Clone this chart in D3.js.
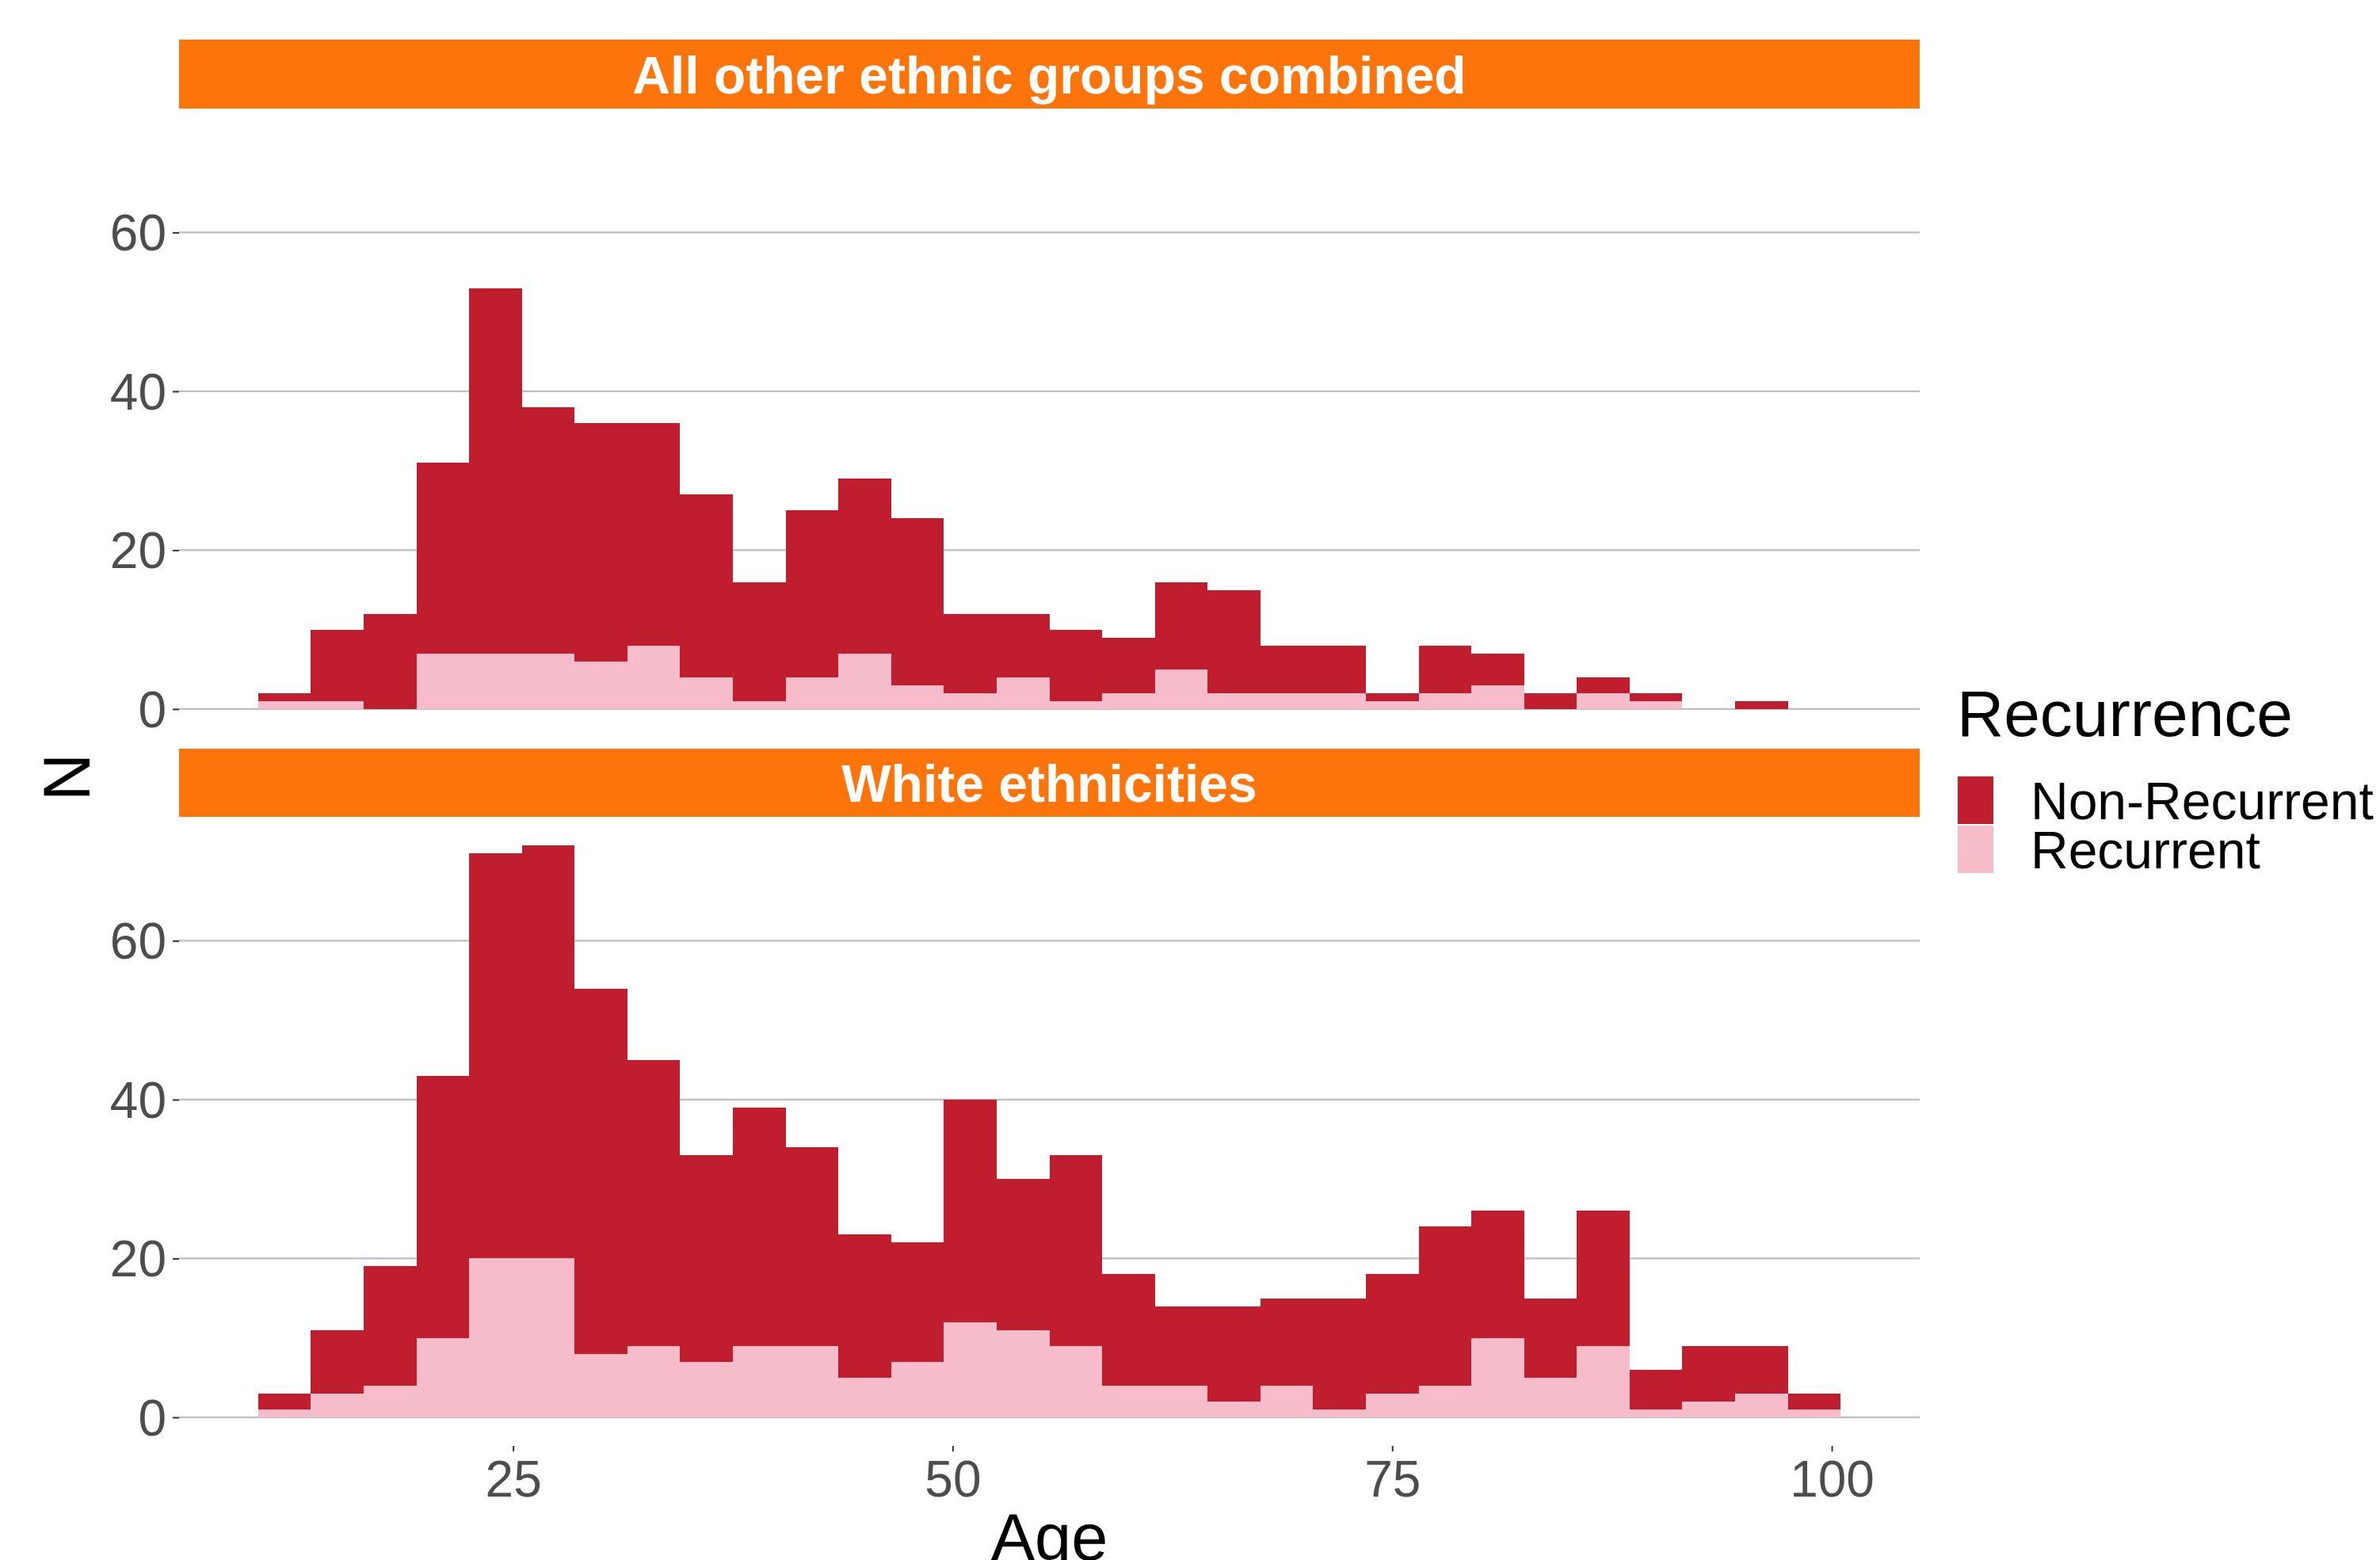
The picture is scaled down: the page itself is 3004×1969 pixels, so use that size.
<!DOCTYPE html>
<html>
<head>
<meta charset="utf-8">
<script src="https://cdn.jsdelivr.net/npm/d3@7"></script>
<style>
  html, body { margin: 0; padding: 0; background: #ffffff; }
  svg { display: block; }
  text { font-family: "Liberation Sans", Arial, sans-serif; }
</style>
</head>
<body>
<script>
// Age histogram, 3-year bins from 10.5 to 100.5
const binStart = 10.5;
const binWidth = 3;
const binCount = 30;

const panels = ["All other ethnic groups combined", "White ethnicities"];
const recurrenceLevels = ["Non-Recurrent", "Recurrent"];

// Counts per bin: total patients and recurrent patients
const otherTotal = [2, 10, 12, 31, 53, 38, 36, 36, 27, 16, 25, 29, 24, 12, 12, 10, 9, 16, 15, 8, 8, 2, 8, 7, 2, 4, 2, 0, 1, 0];
const otherRecurrent = [1, 1, 0, 7, 7, 7, 6, 8, 4, 1, 4, 7, 3, 2, 4, 1, 2, 5, 2, 2, 2, 1, 2, 3, 0, 2, 1, 0, 0, 0];
const whiteTotal = [3, 11, 19, 43, 71, 72, 54, 45, 33, 39, 34, 23, 22, 40, 30, 33, 18, 14, 14, 15, 15, 18, 24, 26, 15, 26, 6, 9, 9, 3];
const whiteRecurrent = [1, 3, 4, 10, 20, 20, 8, 9, 7, 9, 9, 5, 7, 12, 11, 9, 4, 4, 2, 4, 1, 3, 4, 10, 5, 9, 1, 2, 3, 1];

const xTicks = [25, 50, 75, 100];
const yTicks = [0, 20, 40, 60];

const colors = { "Non-Recurrent": "#C01E2E", "Recurrent": "#F7BCCA" };
const stripColor = "#FD740A";

const W = 3004, H = 1969;
const svg = d3.select("body").append("svg").attr("width", W).attr("height", H);

// Stack recurrent at the bottom, non-recurrent on top
function buildBins(total, rec) {
  return total.map((t, i) => {
    const x0 = binStart + i * binWidth;
    return {
      x0, x1: x0 + binWidth,
      segments: [
        { key: "Recurrent", y0: 0, y1: rec[i] },
        { key: "Non-Recurrent", y0: rec[i], y1: t }
      ]
    };
  });
}
const panelData = [buildBins(otherTotal, otherRecurrent), buildBins(whiteTotal, whiteRecurrent)];

// Shared scales with 5% expansion
const xMin = binStart, xMax = binStart + binCount * binWidth;
const xPad = (xMax - xMin) * 0.05;
const x = d3.scaleLinear().domain([xMin - xPad, xMax + xPad]).range([226, 2423]);
const yMax = d3.max([...otherTotal, ...whiteTotal]);
const yPad = yMax * 0.05;

const panelBoxes = [
  { stripTop: 50, top: 137, bottom: 931 },
  { stripTop: 945, top: 1031, bottom: 1825 }
];

panelBoxes.forEach((box, p) => {
  const y = d3.scaleLinear().domain([-yPad, yMax + yPad]).range([box.bottom, box.top]);
  const g = svg.append("g");

  // strip
  g.append("rect").attr("x", x.range()[0]).attr("y", box.stripTop)
    .attr("width", x.range()[1] - x.range()[0]).attr("height", box.top - box.stripTop)
    .attr("fill", stripColor);
  g.append("text").attr("x", (x.range()[0] + x.range()[1]) / 2)
    .attr("y", (box.stripTop + box.top) / 2 + 24)
    .attr("text-anchor", "middle").attr("fill", "#ffffff")
    .attr("font-weight", "bold").attr("font-size", 66)
    .text(panels[p]);

  // horizontal grid
  g.append("g").selectAll("line").data(yTicks).join("line")
    .attr("x1", x.range()[0]).attr("x2", x.range()[1])
    .attr("y1", d => y(d)).attr("y2", d => y(d))
    .attr("stroke", "#BEBEBE").attr("stroke-width", 2.2);

  // bars
  g.append("g").selectAll("g").data(panelData[p]).join("g")
    .selectAll("rect").data(d => d.segments.map(s => ({ ...s, x0: d.x0, x1: d.x1 })))
    .join("rect")
    .attr("x", d => x(d.x0)).attr("width", d => x(d.x1) - x(d.x0))
    .attr("y", d => y(d.y1)).attr("height", d => Math.max(0, y(d.y0) - y(d.y1)))
    .attr("fill", d => colors[d.key])
    .attr("shape-rendering", "crispEdges");

  // y axis
  const yAxis = d3.axisLeft(y).tickValues(yTicks).tickSize(8).tickPadding(8);
  const ya = g.append("g").attr("transform", `translate(${x.range()[0]},0)`).call(yAxis);
  ya.select(".domain").remove();
  ya.selectAll(".tick line").attr("stroke", "#333333").attr("stroke-width", 2);
  ya.selectAll(".tick text").attr("font-size", 64).attr("fill", "#4D4D4D")
    .attr("font-family", "'Liberation Sans', Arial, sans-serif").attr("dy", "0.35em");

  // x axis on the bottom panel only
  if (p === panelBoxes.length - 1) {
    const xAxis = d3.axisBottom(x).tickValues(xTicks).tickSize(7).tickPadding(8);
    const xa = g.append("g").attr("transform", `translate(0,${box.bottom})`).call(xAxis);
    xa.select(".domain").remove();
    xa.selectAll(".tick line").attr("stroke", "#333333").attr("stroke-width", 2);
    xa.selectAll(".tick text").attr("font-size", 64).attr("fill", "#4D4D4D")
      .attr("font-family", "'Liberation Sans', Arial, sans-serif").attr("dy", "0.76em");
  }
});

// axis titles
svg.append("text").attr("x", (x.range()[0] + x.range()[1]) / 2).attr("y", 1969)
  .attr("text-anchor", "middle").attr("font-size", 83).attr("fill", "#000000").text("Age");
svg.append("text").attr("transform", "translate(113,981) rotate(-90)")
  .attr("text-anchor", "middle").attr("font-size", 83).attr("fill", "#000000").text("N");

// legend
const legend = svg.append("g");
legend.append("text").attr("x", 2470).attr("y", 929).attr("font-size", 82).attr("fill", "#000000").text("Recurrence");
recurrenceLevels.forEach((lvl, i) => {
  const ky = 980 + i * 62;
  legend.append("rect").attr("x", 2471).attr("y", ky).attr("width", 45).attr("height", 60)
    .attr("fill", colors[lvl]);
  legend.append("text").attr("x", 2563).attr("y", ky + 54).attr("font-size", 66)
    .attr("fill", "#000000").text(lvl);
});
</script>
</body>
</html>
